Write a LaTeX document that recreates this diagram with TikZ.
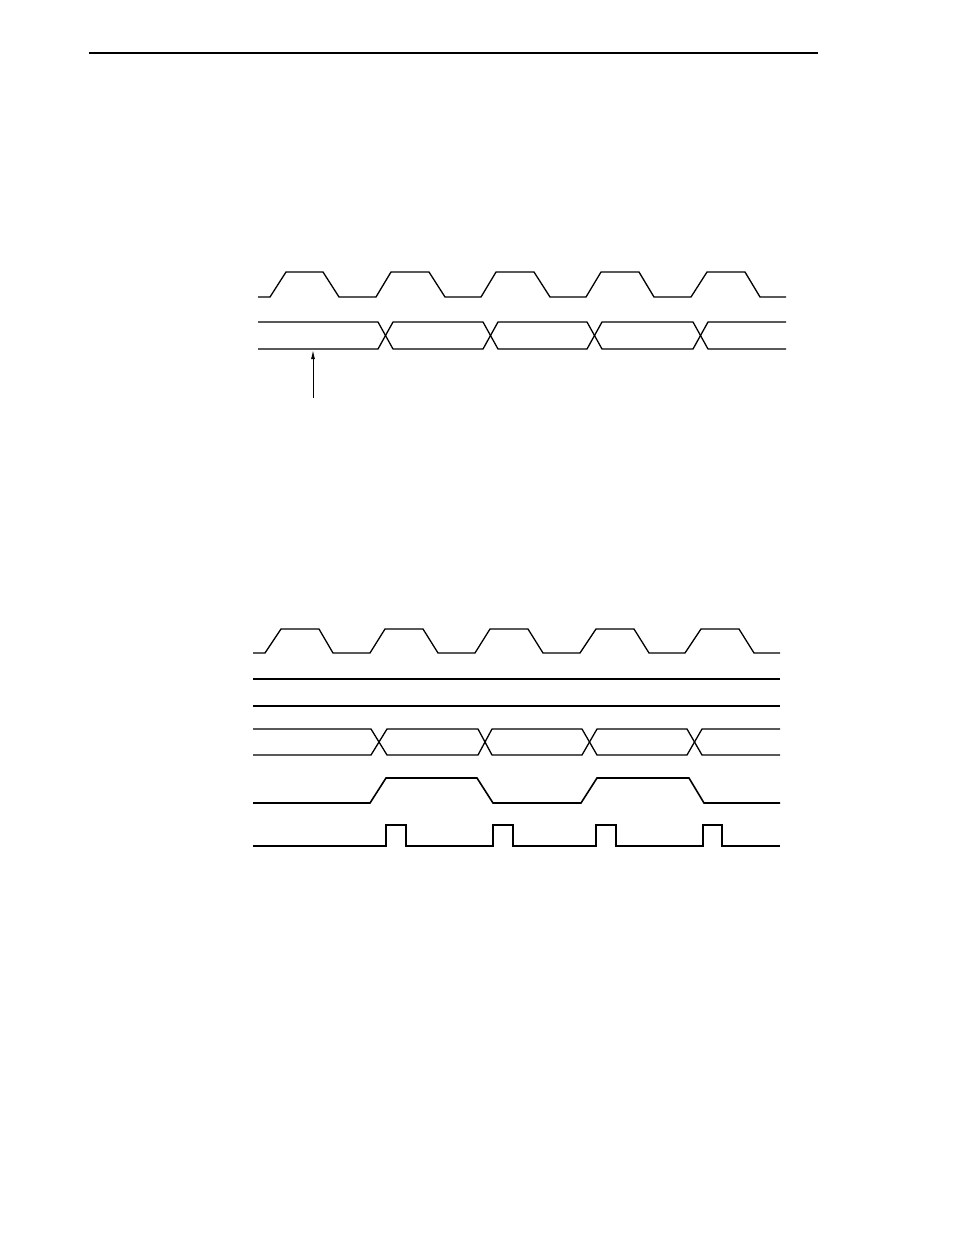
\documentclass[tikz,border=0pt]{standalone}
\usetikzlibrary{arrows.meta}

\begin{document}
\begin{tikzpicture}[x=1pt,y=-1pt,line join=miter]

\useasboundingbox (0,0) rectangle (954,1235);

% page rule
\draw[line width=1.4pt] (89,53)--(818,53);

% first diagram: clock
\draw[line width=1.3pt] (258,297)--(270,297)--(286,272)--(323,272)--(339,297)--(376,297)--(391,272)--(429,272)--(445,297)--(481,297)--(496,272)--(534,272)--(550,297)--(586,297)--(601,272)--(639,272)--(654,297)--(691,297)--(707,272)--(745,272)--(760,297)--(786,297);

% first diagram: data
\draw[line width=1.3pt] (258,322)--(378,322)--(393,349)--(483,349)--(498,322)--(587,322)--(602,349)--(693,349)--(708,322)--(786,322);
\draw[line width=1.3pt] (258,349)--(378,349)--(393,322)--(483,322)--(498,349)--(587,349)--(602,322)--(693,322)--(708,349)--(786,349);

\coordinate (arrowfoot) at (313,398);
\coordinate (arrowtip) at (313,350);
\draw[line width=1pt,-{Latex[length=9pt,width=4pt]}] (arrowfoot)--(arrowtip);

% second diagram: clock
\draw[line width=1.3pt] (253,653)--(265,653)--(281,629)--(319,629)--(333,653)--(370,653)--(385,629)--(423,629)--(438,653)--(475,653)--(490,629)--(528,629)--(543,653)--(580,653)--(596,629)--(634,629)--(649,653)--(685,653)--(701,629)--(739,629)--(754,653)--(780,653);

\draw[line width=2pt] (253,679)--(780,679);
\draw[line width=1.2pt] (253,706)--(780,706);

% second diagram: data
\draw[line width=1.3pt] (253,729)--(371,729)--(387,755)--(478,755)--(492,729)--(582,729)--(597,755)--(687,755)--(702,729)--(780,729);
\draw[line width=1.3pt] (253,755)--(371,755)--(387,729)--(478,729)--(492,755)--(582,755)--(597,729)--(687,729)--(702,755)--(780,755);

\draw[line width=1.6pt] (253,803)--(370,803)--(386,778)--(477,778)--(493,803)--(581,803)--(597,778)--(689,778)--(704,803)--(780,803);

\draw[line width=1.3pt] (253,846)--(386,846)--(386,825)--(406,825)--(406,846)--(493,846)--(493,825)--(513,825)--(513,846)--(596,846)--(596,825)--(616,825)--(616,846)--(703,846)--(703,825)--(722,825)--(722,846)--(780,846);

\end{tikzpicture}
\end{document}
